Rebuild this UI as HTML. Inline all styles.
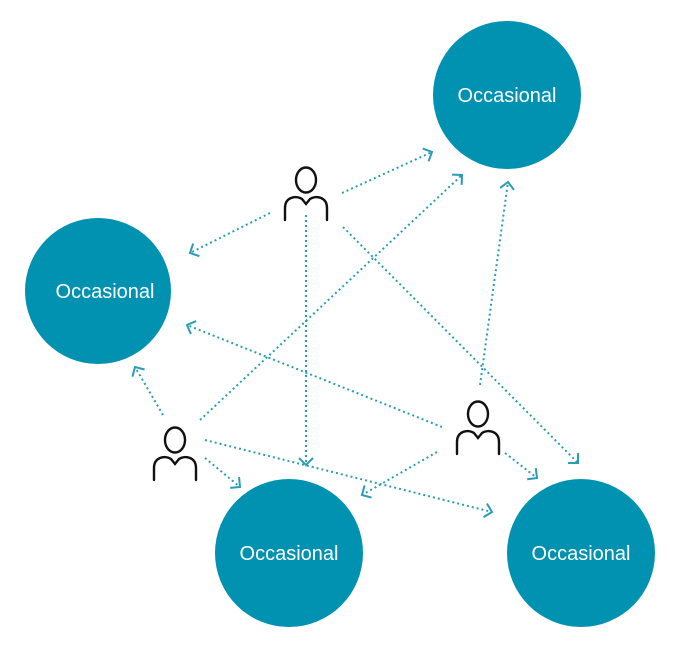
<!DOCTYPE html>
<html><head><style>
html,body{margin:0;padding:0;background:#fff;width:675px;height:656px;overflow:hidden}
text{font-family:"Liberation Sans",sans-serif}
</style></head><body>
<svg width="675" height="656" viewBox="0 0 675 656" xmlns="http://www.w3.org/2000/svg">
<defs>
<marker id="a" markerWidth="16" markerHeight="16" refX="11" refY="8" orient="auto" markerUnits="userSpaceOnUse">
<path d="M4,1 L11,8 L4,15" fill="none" stroke="#2a9db5" stroke-width="2"/>
</marker>
<g id="p" fill="none" stroke="#111" stroke-width="2.4" stroke-linecap="round">
<ellipse cx="0" cy="-13" rx="10" ry="12.5"/>
<path d="M-21,27 V15 C-21,4 -10,2 -4,6 L0,11 L4,6 C10,2 21,4 21,15 V27"/>
</g>
</defs>
<g fill="#0092b0">
<circle cx="507" cy="95" r="74"/>
<circle cx="98" cy="291" r="73"/>
<circle cx="289" cy="553" r="74"/>
<circle cx="581" cy="553" r="74"/>
</g>
<g fill="#fff" font-size="20" text-anchor="middle">
<text x="507" y="102">Occasional</text>
<text x="105" y="298">Occasional</text>
<text x="289" y="560">Occasional</text>
<text x="581" y="560">Occasional</text>
</g>
<g stroke="#2a9db5" stroke-width="2" stroke-dasharray="2 3" fill="none" marker-end="url(#a)">
<line x1="342" y1="193" x2="432" y2="152"/>
<line x1="270" y1="213" x2="190" y2="253"/>
<line x1="306" y1="215" x2="306" y2="465"/>
<line x1="343" y1="227" x2="578" y2="463"/>
<line x1="163" y1="415" x2="135" y2="367"/>
<line x1="200" y1="420" x2="462" y2="175"/>
<line x1="205" y1="440" x2="492" y2="512"/>
<line x1="205" y1="458" x2="240" y2="487"/>
<line x1="442" y1="427" x2="187" y2="325"/>
<line x1="480" y1="385" x2="508" y2="182"/>
<line x1="437" y1="452" x2="362" y2="495"/>
<line x1="505" y1="453" x2="537" y2="478"/>
</g>
<use href="#p" x="306" y="193"/>
<use href="#p" x="175" y="453"/>
<use href="#p" x="478" y="427"/>
</svg>
</body></html>
